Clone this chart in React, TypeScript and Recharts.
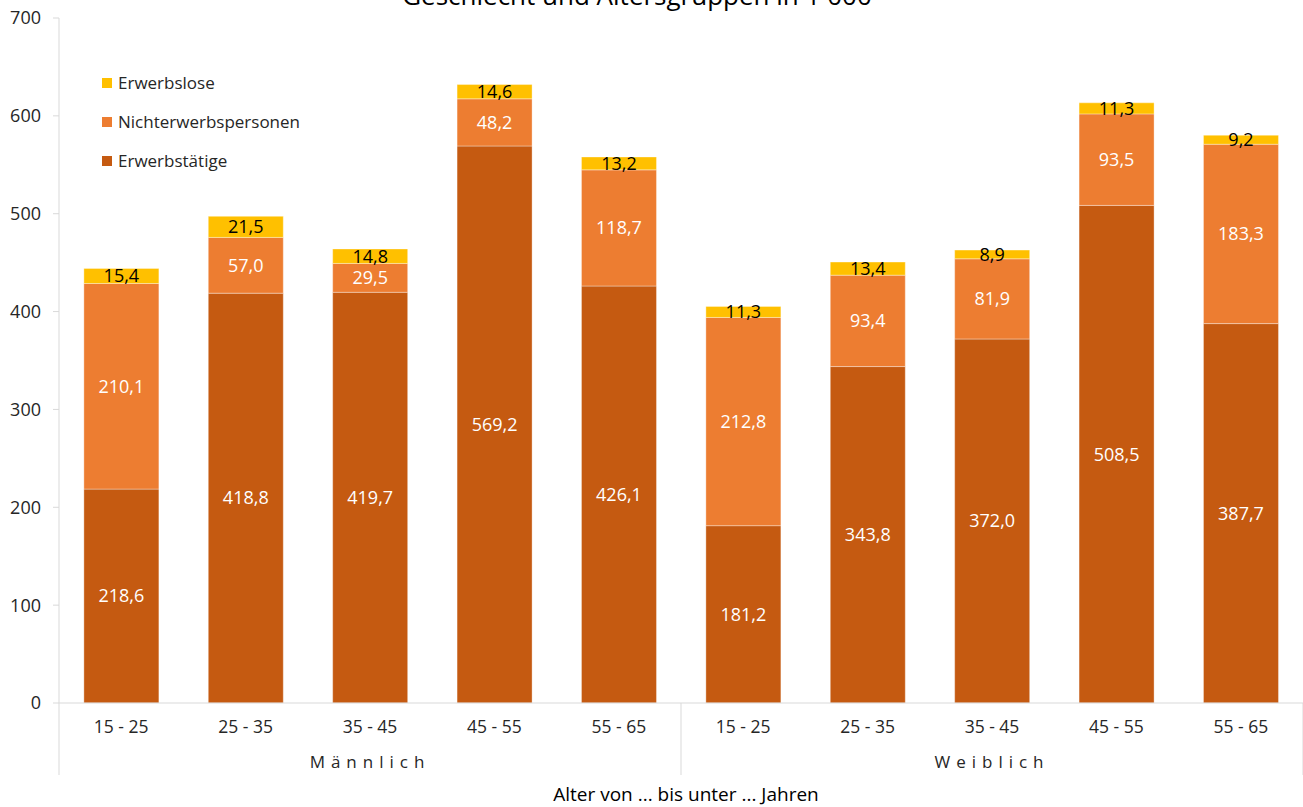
import React from "react";
import { BarChart, Bar, XAxis, YAxis, LabelList } from "recharts";

const ageGroups = ["15 - 25", "25 - 35", "35 - 45", "45 - 55", "55 - 65"];
const sexes = ["Männlich", "Weiblich"];

const erwerbstaetige = [218.6, 418.8, 419.7, 569.2, 426.1, 181.2, 343.8, 372.0, 508.5, 387.7];
const nichterwerbspersonen = [210.1, 57.0, 29.5, 48.2, 118.7, 212.8, 93.4, 81.9, 93.5, 183.3];
const erwerbslose = [15.4, 21.5, 14.8, 14.6, 13.2, 11.3, 13.4, 8.9, 11.3, 9.2];

const yTicks = [0, 100, 200, 300, 400, 500, 600, 700];

const data = sexes.flatMap((sex, s) =>
  ageGroups.map((age, a) => {
    const i = s * ageGroups.length + a;
    return {
      age,
      sex,
      erwerbstaetige: erwerbstaetige[i],
      nichterwerbspersonen: nichterwerbspersonen[i],
      erwerbslose: erwerbslose[i],
    };
  })
);

const W = 1303;
const H = 807;
const margin = { top: 18, right: 0, left: 0, bottom: 0 };
const yAxisWidth = 59;
const band = (W - yAxisWidth - margin.left - margin.right) / data.length;

const FONT = "'Open Sans', sans-serif";
const TEXT = "#262626";
const GRID = "#d9d9d9";

const colors = {
  erwerbstaetige: "#C55A11",
  nichterwerbspersonen: "#ED7D31",
  erwerbslose: "#FFC000",
};

const fmt = (v: any) => Number(v).toFixed(1).replace(".", ",");

const legendItems = [
  { name: "Erwerbslose", color: colors.erwerbslose },
  { name: "Nichterwerbspersonen", color: colors.nichterwerbspersonen },
  { name: "Erwerbstätige", color: colors.erwerbstaetige },
];

function LegendBox() {
  return (
    <div
      style={{
        position: "absolute",
        left: 102,
        top: 63,
        fontFamily: FONT,
        fontSize: 17,
        color: TEXT,
      }}
    >
      {legendItems.map((it) => (
        <div key={it.name} style={{ display: "flex", alignItems: "center", height: 39 }}>
          <span
            style={{ width: 10, height: 10, background: it.color, marginRight: 6, display: "inline-block" }}
          />
          {it.name}
        </div>
      ))}
    </div>
  );
}

function AgeTick(props: any) {
  const { x, y, payload, index } = props;
  const perGroup = ageGroups.length;
  const isGroupStart = index % perGroup === 0;
  const isLast = index === data.length - 1;
  const isGroupMid = index % perGroup === Math.floor(perGroup / 2);
  return (
    <g>
      <text x={x} y={y + 22} textAnchor="middle" fontSize={17.5} fill={TEXT} fontFamily={FONT}>
        {payload.value}
      </text>
      {isGroupMid && (
        <text
          x={x}
          y={y + 57}
          textAnchor="middle"
          fontSize={17}
          fill={TEXT}
          fontFamily={FONT}
          letterSpacing={6}
        >
          {data[index].sex}
        </text>
      )}
      {isGroupStart && (
        <line x1={x - band / 2} x2={x - band / 2} y1={y - 8} y2={y + 64} stroke={GRID} />
      )}
      {isLast && (
        <line x1={x + band / 2} x2={x + band / 2} y1={y - 8} y2={y + 64} stroke={GRID} />
      )}
    </g>
  );
}

export default function App() {
  return (
    <div style={{ position: "absolute", left: 0, top: 0, width: W, height: H, overflow: "hidden" }}>
      <div
        style={{
          position: "absolute",
          top: -23,
          left: 0,
          width: 1274,
          textAlign: "center",
          fontFamily: FONT,
          fontSize: 26,
          color: "#000",
          whiteSpace: "nowrap",
        }}
      >
        Geschlecht und Altersgruppen in 1 000
      </div>
      <BarChart width={W} height={H} data={data} margin={margin} barCategoryGap="20%">
        <XAxis
          dataKey="age"
          height={104}
          tickLine={false}
          axisLine={{ stroke: GRID }}
          tick={<AgeTick />}
          interval={0}
        />
        <YAxis
          width={yAxisWidth}
          domain={[0, 700]}
          ticks={yTicks}
          tickSize={6}
          tickMargin={12}
          tickLine={{ stroke: GRID }}
          axisLine={{ stroke: GRID }}
          tick={{ fontFamily: FONT, fontSize: 18, fill: TEXT }}
        />
        <Bar
          dataKey="erwerbstaetige"
          name="Erwerbstätige"
          stackId="a"
          fill={colors.erwerbstaetige}
          stroke="rgba(255,255,255,0.35)"
          isAnimationActive={false}
        >
          <LabelList
            dataKey="erwerbstaetige"
            position="center"
            formatter={fmt}
            style={{ fontFamily: FONT, fontSize: 18, fill: "#fff" }}
          />
        </Bar>
        <Bar
          dataKey="nichterwerbspersonen"
          name="Nichterwerbspersonen"
          stackId="a"
          fill={colors.nichterwerbspersonen}
          stroke="rgba(255,255,255,0.35)"
          isAnimationActive={false}
        >
          <LabelList
            dataKey="nichterwerbspersonen"
            position="center"
            formatter={fmt}
            style={{ fontFamily: FONT, fontSize: 18, fill: "#fff" }}
          />
        </Bar>
        <Bar
          dataKey="erwerbslose"
          name="Erwerbslose"
          stackId="a"
          fill={colors.erwerbslose}
          stroke="rgba(255,255,255,0.35)"
          isAnimationActive={false}
        >
          <LabelList
            dataKey="erwerbslose"
            position="center"
            formatter={fmt}
            style={{ fontFamily: FONT, fontSize: 18, fill: "#000" }}
          />
        </Bar>
      </BarChart>
      <LegendBox />
      <div
        style={{
          position: "absolute",
          left: 486,
          top: 781,
          width: 400,
          textAlign: "center",
          fontFamily: FONT,
          fontSize: 19,
          color: "#000",
          whiteSpace: "nowrap",
        }}
      >
        Alter von ... bis unter ... Jahren
      </div>
    </div>
  );
}
